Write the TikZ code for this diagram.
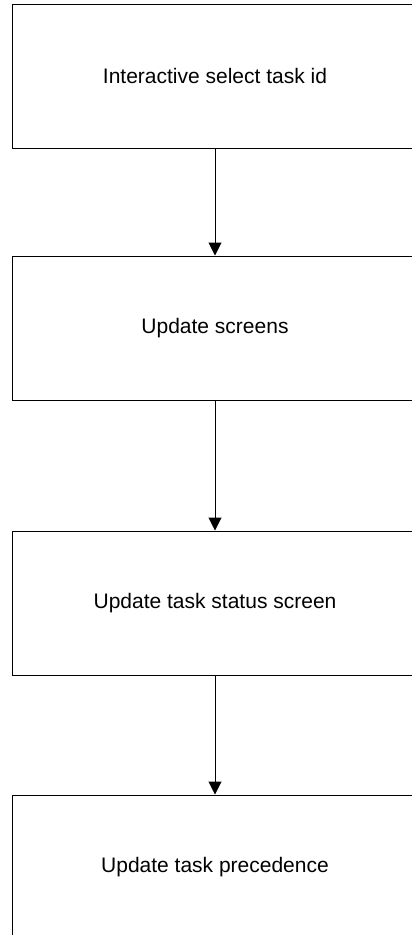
\documentclass[tikz,border=0pt]{standalone}
\usepackage{fontspec}
\setmainfont{Liberation Sans}
\usetikzlibrary{arrows.meta}
\tikzset{
  stepbox/.style={draw=black, line width=1pt, minimum width=406pt, minimum height=144pt,
    inner sep=0pt, font=\fontsize{21pt}{25pt}\selectfont, anchor=center},
  flow/.style={draw=black, line width=1pt, -{Triangle[length=13pt,width=13pt]}}
}
\begin{document}
\begin{tikzpicture}[x=1pt,y=-1pt]
  \useasboundingbox (0,0) rectangle (412,935);
  \fill[white] (0,0) rectangle (412,935);
  \node[stepbox] (select) at (215,76) {Interactive select task id};
  \node[stepbox] (screens) at (215,328) {Update screens};
  \node[stepbox] (status) at (215,603) {Update task status screen};
  \node[stepbox] (prec) at (215,867) {Update task precedence};
  \draw[flow] (select.south) -- (screens.north);
  \draw[flow] (screens.south) -- (status.north);
  \draw[flow] (status.south) -- (prec.north);
\end{tikzpicture}
\end{document}
